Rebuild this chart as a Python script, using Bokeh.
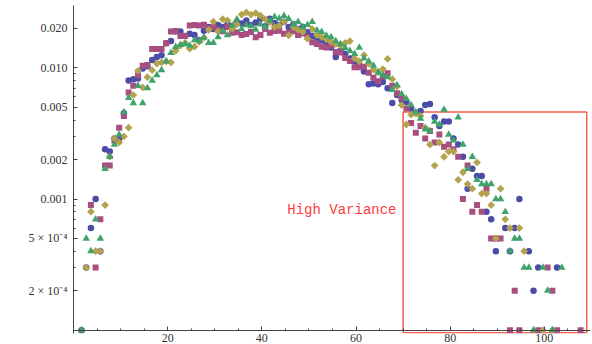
import math
from bokeh.plotting import figure
from bokeh.models import FixedTicker, CustomJSTickFormatter, Range1d, LinearAxis
from bokeh.core.properties import value
from bokeh.embed import file_html
from bokeh.resources import INLINE

# ---------------- data ----------------
x_blue = [1.7, 2.7, 3.7, 4.7, 5.7, 6.7, 7.7, 8.7, 9.7, 10.7, 11.7, 12.7, 13.7, 14.7, 15.7, 16.7, 17.7, 18.7, 19.7, 20.7,
          21.7, 22.7, 23.7, 24.7, 25.7, 26.7, 27.7, 28.7, 29.7, 30.7, 31.7, 32.7, 33.7, 34.7, 35.7, 36.7, 37.7, 38.7, 39.7, 40.7,
          41.7, 42.7, 43.7, 44.7, 45.7, 46.7, 47.7, 48.7, 49.7, 50.7, 51.7, 52.7, 53.7, 54.7, 55.7, 56.7, 57.7, 58.7, 59.7, 60.7,
          61.7, 62.7, 63.7, 64.7, 65.7, 66.7, 67.7, 68.7, 69.7, 70.7, 71.7, 72.7, 73.7, 74.7, 75.7, 76.7, 77.7, 78.7, 79.7, 80.7,
          81.7, 82.7, 83.7, 84.7, 85.7, 86.7, 87.7, 88.7, 89.7, 91.7, 92.7, 93.7, 94.7, 96.7, 97.7, 98.7, 102.7]
y_blue = [0.0001, 0.0003, 0.0006, 0.0010, 0.0004, 0.0024, 0.0023, 0.0029, 0.0029, 0.0045, 0.0080, 0.0082, 0.0083, 0.0099, 0.0103, 0.0115, 0.0121, 0.0125, 0.0154, 0.0160,
          0.0189, 0.0189, 0.0175, 0.0182, 0.0178, 0.0163, 0.0192, 0.0205, 0.0198, 0.0212, 0.0205, 0.0215, 0.0208, 0.0224, 0.0218, 0.0230, 0.0212, 0.0222, 0.0237, 0.0208,
          0.0237, 0.0220, 0.0212, 0.0225, 0.0205, 0.0215, 0.0198, 0.0205, 0.0187, 0.0175, 0.0170, 0.0162, 0.0150, 0.0143, 0.0121, 0.0135, 0.0128, 0.0118, 0.0112, 0.0105,
          0.0094, 0.0075, 0.0076, 0.0075, 0.0078, 0.0070, 0.0054, 0.0062, 0.0057, 0.0055, 0.0049, 0.0045, 0.0047, 0.0052, 0.0053, 0.0042, 0.0036, 0.0039, 0.0039, 0.0029,
          0.0026, 0.0021, 0.0012, 0.0017, 0.0015, 0.0015, 0.0008, 0.0007, 0.0004, 0.0006, 0.0004, 0.0006, 0.0010, 0.0004, 0.0002, 0.0003, 0.0003]

x_square = [3.7, 4.7, 5.7, 6.7, 7.7, 8.7, 9.7, 10.7, 11.7, 12.7, 13.7, 14.7, 15.7, 16.7, 17.7, 18.7, 19.7, 20.7,
            21.7, 22.7, 23.7, 24.7, 25.7, 26.7, 27.7, 28.7, 29.7, 30.7, 31.7, 32.7, 33.7, 34.7, 35.7, 36.7, 37.7, 38.7, 39.7, 40.7,
            41.7, 42.7, 43.7, 44.7, 45.7, 46.7, 47.7, 48.7, 49.7, 50.7, 51.7, 52.7, 53.7, 54.7, 55.7, 56.7, 57.7, 58.7, 59.7, 60.7,
            61.7, 62.7, 63.7, 64.7, 65.7, 66.7, 67.7, 68.7, 69.7, 70.7, 71.7, 72.7, 73.7, 74.7, 75.7, 76.7, 77.7, 78.7, 79.7, 80.7,
            81.7, 82.7, 83.7, 84.7, 85.7, 86.7, 87.7, 88.7, 89.7, 90.7, 92.7, 93.7, 94.7, 98.7, 100.7, 101.7, 102.7, 107.7]
y_square = [0.0009, 0.0003, 0.0007, 0.0018, 0.0018, 0.0028, 0.0035, 0.0043, 0.0065, 0.0073, 0.0088, 0.0104, 0.0105, 0.0139, 0.0139, 0.0139, 0.0154, 0.0189,
            0.0191, 0.0175, 0.0175, 0.0210, 0.0212, 0.0210, 0.0213, 0.0200, 0.0205, 0.0195, 0.0190, 0.0205, 0.0185, 0.0187, 0.0178, 0.0181, 0.0188, 0.0171, 0.0178, 0.0198,
            0.0185, 0.0191, 0.0192, 0.0182, 0.0185, 0.0190, 0.0178, 0.0183, 0.0172, 0.0157, 0.0152, 0.0145, 0.0143, 0.0148, 0.0132, 0.0131, 0.0119, 0.0113, 0.0101, 0.0101,
            0.0102, 0.0092, 0.0084, 0.0079, 0.0086, 0.0091, 0.0073, 0.0064, 0.0059, 0.0049, 0.0038, 0.0032, 0.0036, 0.0029, 0.0033, 0.0027, 0.0031, 0.0025, 0.0026, 0.0024,
            0.0021, 0.0010, 0.0018, 0.0008, 0.0009, 0.0008, 0.0012, 0.0005, 0.0005, 0.0005, 0.0001, 0.0002, 0.0001, 0.0001, 0.0003, 0.0002, 0.0001, 0.0001]

x_diamond = [2.7, 3.7, 4.7, 5.7, 6.7, 7.7, 8.7, 9.7, 10.7, 11.7, 12.7, 13.7, 14.7, 15.7, 16.7, 17.7, 18.7, 19.7, 20.7,
             21.7, 22.7, 23.7, 24.7, 25.7, 26.7, 27.7, 28.7, 29.7, 30.7, 31.7, 32.7, 33.7, 34.7, 35.7, 36.7, 37.7, 38.7, 39.7, 40.7,
             41.7, 42.7, 43.7, 44.7, 45.7, 46.7, 47.7, 48.7, 49.7, 50.7, 51.7, 52.7, 53.7, 54.7, 55.7, 56.7, 57.7, 58.7, 59.7, 60.7,
             61.7, 62.7, 63.7, 64.7, 65.7, 66.7, 67.7, 68.7, 69.7, 70.7, 71.7, 72.7, 73.7, 74.7, 75.7, 76.7, 77.7, 78.7, 79.7, 80.7,
             81.7, 82.7, 83.7, 84.7, 85.7, 86.7, 87.7, 88.7, 89.7, 90.7, 91.7, 92.7, 94.7, 95.7, 99.7, 101.7]
y_diamond = [0.0003, 0.0008, 0.0004, 0.0004, 0.0009, 0.0021, 0.0029, 0.0027, 0.0030, 0.0035, 0.0062, 0.0095, 0.0071, 0.0085, 0.0096, 0.0108, 0.0110, 0.0112, 0.0110,
             0.0135, 0.0148, 0.0155, 0.0140, 0.0145, 0.0158, 0.0170, 0.0195, 0.0225, 0.0190, 0.0235, 0.0230, 0.0198, 0.0215, 0.0255, 0.0265, 0.0255, 0.0262, 0.0250, 0.0235,
             0.0222, 0.0205, 0.0210, 0.0225, 0.0177, 0.0205, 0.0195, 0.0188, 0.0167, 0.0198, 0.0178, 0.0172, 0.0165, 0.0158, 0.0152, 0.0148, 0.0155, 0.0160, 0.0118, 0.0112,
             0.0125, 0.0108, 0.0097, 0.0093, 0.0098, 0.0117, 0.0082, 0.0072, 0.0052, 0.0037, 0.0044, 0.0045, 0.0043, 0.0035, 0.0026, 0.0018, 0.0027, 0.0021, 0.0023, 0.0023,
             0.0014, 0.0016, 0.0013, 0.0012, 0.0019, 0.0011, 0.0011, 0.0009, 0.0005, 0.0012, 0.0007, 0.0006, 0.0006, 0.0004, 0.0001, 0.0001]

x_triangle = [1.7, 2.7, 3.7, 4.7, 5.7, 6.7, 7.7, 8.7, 9.7, 10.7, 11.7, 12.7, 13.7, 14.7, 15.7, 16.7, 17.7, 18.7, 19.7, 20.7,
              21.7, 22.7, 23.7, 24.7, 25.7, 26.7, 27.7, 28.7, 29.7, 30.7, 31.7, 32.7, 33.7, 34.7, 35.7, 36.7, 37.7, 38.7, 39.7, 40.7,
              41.7, 42.7, 43.7, 44.7, 45.7, 46.7, 47.7, 48.7, 49.7, 50.7, 51.7, 52.7, 53.7, 54.7, 55.7, 56.7, 57.7, 58.7, 59.7, 60.7,
              61.7, 62.7, 63.7, 64.7, 65.7, 66.7, 67.7, 68.7, 69.7, 70.7, 71.7, 72.7, 73.7, 74.7, 75.7, 76.7, 77.7, 78.7, 79.7, 80.7,
              81.7, 82.7, 83.7, 84.7, 85.7, 86.7, 87.7, 88.7, 89.7, 90.7, 91.7, 92.7, 93.7, 94.7, 95.7, 96.7, 97.7, 99.7, 100.7, 101.7, 103.7]
y_triangle = [0.0001, 0.0005, 0.0004, 0.0007, 0.0005, 0.0017, 0.0021, 0.0026, 0.0031, 0.0046, 0.0059, 0.0054, 0.0073, 0.0054, 0.0070, 0.0080, 0.0088, 0.0096, 0.0112, 0.0130,
              0.0145, 0.0150, 0.0152, 0.0148, 0.0163, 0.0160, 0.0170, 0.0155, 0.0155, 0.0172, 0.0192, 0.0178, 0.0210, 0.0235, 0.0198, 0.0212, 0.0208, 0.0196, 0.0215, 0.0205,
              0.0228, 0.0245, 0.0238, 0.0249, 0.0237, 0.0214, 0.0224, 0.0205, 0.0213, 0.0224, 0.0193, 0.0188, 0.0176, 0.0172, 0.0160, 0.0152, 0.0142, 0.0135, 0.0128, 0.0143,
              0.0118, 0.0112, 0.0104, 0.0092, 0.0088, 0.0085, 0.0068, 0.0074, 0.0063, 0.0058, 0.0052, 0.0046, 0.0041, 0.0034, 0.0033, 0.0039, 0.0037, 0.0048, 0.0031, 0.0028,
              0.0042, 0.0026, 0.0017, 0.0021, 0.0014, 0.0013, 0.0013, 0.0013, 0.0010, 0.0010, 0.0008, 0.0004, 0.0005, 0.0005, 0.0003, 0.0003, 0.0001, 0.0003, 0.0002, 0.0001, 0.0003]

x_ticks = [20, 40, 60, 80, 100]
x_minor = [5, 10, 15, 25, 30, 35, 45, 50, 55, 65, 70, 75, 85, 90, 95, 105]
y_ticks = [0.0002, 0.0005, 0.001, 0.002, 0.005, 0.01, 0.02]
y_tick_labels = ["2 \u00d7 10\u207b\u2074", "5 \u00d7 10\u207b\u2074", "0.001", "0.002", "0.005", "0.010", "0.020"]
y_minor = [0.0003, 0.0004, 0.0006, 0.0007, 0.0008, 0.0009, 0.003, 0.004, 0.006, 0.007, 0.008, 0.009]
x_axis_at = 0.0001   # value where the horizontal axis crosses

box_left = [70]
box_right = [109]
box_bottom = [0.0000955]
box_top = [0.0046]
note_x = [45.4]
note_y = [0.000825]
note_text = ["High Variance"]

# ---------------- figure ----------------
p = figure(width=592, height=344, y_axis_type="log",
           x_range=Range1d(0, 109.8), y_range=Range1d(0.0000943, 0.0299),
           output_backend="svg", toolbar_location=None,
           min_border_left=73, min_border_right=2, min_border_top=5, min_border_bottom=0)
p.grid.visible = False
p.outline_line_color = None
p.background_fill_color = "white"

axis_color = "#444444"
label_font = "Liberation Serif"

# horizontal axis line + ticks drawn at y = 1e-4 (inside the frame)
xa = p.xaxis[0]
xa.fixed_location = x_axis_at
xa.ticker = FixedTicker(ticks=x_ticks, minor_ticks=x_minor)
xa.axis_line_color = axis_color
xa.major_tick_line_color = axis_color
xa.minor_tick_line_color = axis_color
xa.major_tick_in = 4
xa.major_tick_out = 0
xa.minor_tick_in = 2
xa.minor_tick_out = 0
xa.major_label_text_color = None

# labels-only axis below the frame
xl = LinearAxis(ticker=FixedTicker(ticks=x_ticks), axis_line_color=None,
                major_tick_line_color=None, minor_tick_line_color=None,
                major_tick_in=0, major_tick_out=0, major_label_standoff=0,
                major_label_text_font=label_font, major_label_text_font_size="12px",
                major_label_text_color="#333333")
p.add_layout(xl, "below")

ya = p.yaxis[0]
ya.ticker = FixedTicker(ticks=y_ticks, minor_ticks=y_minor)
ya.formatter = CustomJSTickFormatter(
    args=dict(vals=y_ticks, labs=y_tick_labels),
    code="for (let i = 0; i < vals.length; i++) { if (Math.abs(tick / vals[i] - 1) < 1e-6) return labs[i]; } return '';")
ya.axis_line_color = axis_color
ya.major_tick_line_color = axis_color
ya.minor_tick_line_color = axis_color
ya.major_tick_in = 4
ya.major_tick_out = 0
ya.minor_tick_in = 2
ya.minor_tick_out = 0
ya.major_label_standoff = 6
ya.major_label_text_font = label_font
ya.major_label_text_font_size = "12px"
ya.major_label_text_color = "#333333"

# red box and note
p.quad(left=box_left, right=box_right, bottom=box_bottom, top=box_top,
       fill_color=None, line_color="#f2604e", line_width=1.5)
p.text(x=note_x, y=note_y, text=note_text, text_font=value("Liberation Mono"),
       text_font_size="14px", text_color="#ff3b3b", text_align="left", text_baseline="middle")

# series
p.scatter(x_blue, y_blue, marker="circle", size=6.5, fill_color="#4b4ba8", line_color=None)
p.scatter(x_square, y_square, marker="square", size=6, fill_color="#a84e80", line_color=None)
p.scatter(x_diamond, y_diamond, marker="square", angle=math.pi / 4, size=5.5, fill_color="#b3a34d", line_color=None)
p.scatter(x_triangle, y_triangle, marker="triangle", size=7.5, fill_color="#3fa36b", line_color=None)

open("out.html", "w").write(file_html(p, INLINE))
